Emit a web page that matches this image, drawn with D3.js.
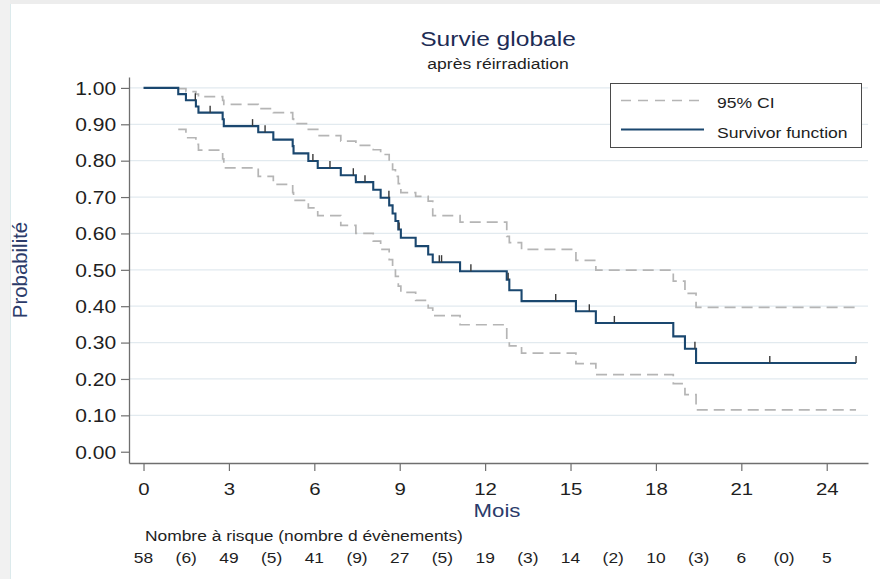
<!DOCTYPE html>
<html lang="fr">
<head>
<meta charset="utf-8">
<title>Survie globale</title>
<script src="https://cdn.jsdelivr.net/npm/d3@7"></script>
<style>
  html, body { margin: 0; padding: 0; background: #ffffff; }
  svg { display: block; }
  text { font-family: "Liberation Sans", Arial, Helvetica, sans-serif; }
</style>
</head>
<body>
<svg id="chart" width="880" height="579"></svg>
<script>
// Kaplan–Meier estimate: event times (months), survival after each event,
// and the pointwise 95% confidence band at the same steps.
const eventTimes = [1.22, 1.49, 1.84, 1.93, 2.78, 2.82, 4.03, 4.56, 5.24, 5.27, 5.79,
  6.12, 6.93, 7.46, 8.07, 8.33, 8.63, 8.75, 8.85, 8.95, 9.04, 9.56, 10.00, 10.16,
  11.12, 12.76, 12.85, 13.28, 15.19, 15.89, 18.61, 19.02, 19.41];
const survival = [0.983, 0.966, 0.949, 0.932, 0.914, 0.895, 0.878, 0.858, 0.840, 0.820, 0.799,
  0.780, 0.760, 0.741, 0.720, 0.698, 0.677, 0.655, 0.634, 0.611, 0.588, 0.565, 0.542, 0.521,
  0.496, 0.473, 0.444, 0.414, 0.386, 0.354, 0.317, 0.283, 0.244];
const ciLower = [0.886, 0.863, 0.845, 0.829, 0.805, 0.780, 0.757, 0.735, 0.712, 0.691, 0.670,
  0.649, 0.622, 0.600, 0.579, 0.556, 0.528, 0.505, 0.482, 0.455, 0.438, 0.416, 0.395, 0.374,
  0.349, 0.310, 0.291, 0.271, 0.242, 0.212, 0.187, 0.157, 0.115];
const ciUpper = [0.998, 0.990, 0.983, 0.976, 0.966, 0.955, 0.943, 0.932, 0.915, 0.902, 0.886,
  0.869, 0.854, 0.842, 0.830, 0.817, 0.795, 0.775, 0.757, 0.737, 0.712, 0.702, 0.689, 0.649,
  0.631, 0.592, 0.575, 0.556, 0.526, 0.499, 0.469, 0.435, 0.397];
// Censored observations (months)
const censorTimes = [1.82, 2.34, 3.83, 4.27, 5.95, 6.55, 7.37, 7.78, 8.62, 8.98, 10.39, 10.47,
  11.50, 12.81, 14.48, 15.66, 16.54, 19.37, 22.00, 25.03];
const lastFollowUp = 25.03;

// Axis ticks
const xTicks = [0, 3, 6, 9, 12, 15, 18, 21, 24];
const yTicks = [0, 0.1, 0.2, 0.3, 0.4, 0.5, 0.6, 0.7, 0.8, 0.9, 1.0];

// Number at risk at each x tick, and number of events in each interval
const riskTimes = [0, 3, 6, 9, 12, 15, 18, 21, 24];
const atRisk = [58, 49, 41, 27, 19, 14, 10, 6, 5];
const intervalEvents = [6, 5, 9, 5, 3, 2, 3, 0];

const titleText = "Survie globale";
const subtitleText = "après réirradiation";
const yTitle = "Probabilité";
const xTitle = "Mois";
const riskHeader = "Nombre à risque (nombre d évènements)";
const legendLabels = ["95% CI", "Survivor function"];

// ---------------------------------------------------------------
const svg = d3.select("#chart");
const W = 880, H = 579;
const SX = 1.17;           // horizontal text stretch
const navy = "#1a476f";
const ciGrey = "#b5b5b5";
const axisGrey = "#6f6f6f";
const titleNavy = "#1d2c55";

svg.append("rect").attr("width", W).attr("height", H).attr("fill", "#ffffff");
// soft window frame along the top and left edges
svg.append("rect").attr("x", 0).attr("y", 0).attr("width", W).attr("height", 4).attr("fill", "#ededed");
svg.append("rect").attr("x", 0).attr("y", 0).attr("width", 10).attr("height", H).attr("fill", "#f1f1f1");
svg.append("line").attr("x1", 10.5).attr("x2", 10.5).attr("y1", 4).attr("y2", H)
  .attr("stroke", "#dceaec").attr("stroke-width", 1);

const x = d3.scaleLinear().domain([-0.51, 25.45]).range([129, 868]);
const y = d3.scaleLinear().domain([-0.031, 1.030]).range([463, 77]);

// horizontal grid lines
svg.append("g").selectAll("line")
  .data(yTicks.filter(d => d > 0))
  .join("line")
  .attr("x1", x.range()[0]).attr("x2", x.range()[1])
  .attr("y1", d => y(d)).attr("y2", d => y(d))
  .attr("stroke", "#e2eaef").attr("stroke-width", 1.2);

// stretched text helper
function label(parent, str, px, py, opts) {
  const o = Object.assign({ size: 15, anchor: "middle", fill: "#222", sx: SX, rotate: 0 }, opts || {});
  return parent.append("text")
    .attr("transform", `translate(${px},${py}) rotate(${o.rotate}) scale(${o.sx},1)`)
    .attr("text-anchor", o.anchor)
    .attr("font-size", o.size)
    .attr("fill", o.fill)
    .text(str);
}

// Y axis
const yAxis = svg.append("g")
  .attr("transform", `translate(${x.range()[0]},0)`)
  .call(d3.axisLeft(y).tickValues(yTicks).tickSize(8).tickSizeOuter(0).tickFormat(d3.format(".2f")));
yAxis.select(".domain").attr("stroke", axisGrey).attr("stroke-width", 1.3);
yAxis.selectAll(".tick line").attr("stroke", axisGrey).attr("stroke-width", 1.2);
yAxis.selectAll(".tick text")
  .attr("font-size", 18).attr("fill", "#1e1e1e")
  .attr("font-family", "Liberation Sans, Arial, sans-serif")
  .attr("x", -11).attr("dy", "0.35em")
  .attr("transform", `scale(${SX},1)`);

// X axis
const xAxis = svg.append("g")
  .attr("transform", `translate(0,${y.range()[0]})`)
  .call(d3.axisBottom(x).tickValues(xTicks).tickSize(8).tickSizeOuter(0).tickFormat(d3.format("d")));
xAxis.select(".domain").attr("stroke", axisGrey).attr("stroke-width", 1.3);
xAxis.selectAll(".tick line").attr("stroke", axisGrey).attr("stroke-width", 1.2);
xAxis.selectAll(".tick text")
  .attr("font-size", 17).attr("fill", "#1e1e1e")
  .attr("font-family", "Liberation Sans, Arial, sans-serif")
  .attr("y", 20).attr("dy", "0.71em")
  .attr("transform", `scale(${SX + 0.03},1)`);

// step series
const stepLine = d3.line().x(d => x(d[0])).y(d => y(d[1])).curve(d3.curveStepAfter);

const survPts = [[0, 1]].concat(eventTimes.map((t, i) => [t, survival[i]]));
survPts.push([lastFollowUp, survival[survival.length - 1]]);
const lowPts = eventTimes.map((t, i) => [t, ciLower[i]]);
lowPts.push([lastFollowUp, ciLower[ciLower.length - 1]]);
const upPts = eventTimes.map((t, i) => [t, ciUpper[i]]);
upPts.push([lastFollowUp, ciUpper[ciUpper.length - 1]]);

const plot = svg.append("g");
[lowPts, upPts].forEach(pts => {
  plot.append("path").attr("d", stepLine(pts))
    .attr("fill", "none").attr("stroke", ciGrey)
    .attr("stroke-width", 1.7).attr("stroke-dasharray", "11,6");
});
plot.append("path").attr("d", stepLine(survPts))
  .attr("fill", "none").attr("stroke", navy).attr("stroke-width", 2.1)
  .attr("stroke-linejoin", "miter");

// censor ticks sit on the curve value at their time
function survAt(t) {
  let s = 1;
  for (let i = 0; i < eventTimes.length; i++) if (eventTimes[i] <= t) s = survival[i];
  return s;
}
plot.append("g").selectAll("line")
  .data(censorTimes)
  .join("line")
  .attr("x1", d => x(d)).attr("x2", d => x(d))
  .attr("y1", d => y(survAt(d))).attr("y2", d => y(survAt(d)) - 7)
  .attr("stroke", "#3a3a3a").attr("stroke-width", 1.4);

// titles
label(svg, titleText, 498, 46, { size: 21, fill: titleNavy });
label(svg, subtitleText, 498, 69, { size: 15, fill: "#1e1e1e" });
label(svg, xTitle, 497, 517, { size: 19, fill: "#2b3b6a" });
label(svg, yTitle, 27, 270, { size: 20, fill: "#2b3b6a", rotate: -90, sx: 1.02 });

// legend
const lg = svg.append("g");
lg.append("rect").attr("x", 610.5).attr("y", 83.5).attr("width", 251).attr("height", 64)
  .attr("fill", "#ffffff").attr("stroke", "#4a4a4a").attr("stroke-width", 1);
lg.append("line").attr("x1", 621).attr("x2", 704).attr("y1", 100.5).attr("y2", 100.5)
  .attr("stroke", ciGrey).attr("stroke-width", 1.7).attr("stroke-dasharray", "10,7");
lg.append("line").attr("x1", 621).attr("x2", 704).attr("y1", 129.5).attr("y2", 129.5)
  .attr("stroke", navy).attr("stroke-width", 2.1);
label(lg, legendLabels[0], 717, 107.5, { size: 15, anchor: "start", fill: "#1e1e1e" });
label(lg, legendLabels[1], 717, 137.5, { size: 15, anchor: "start", fill: "#1e1e1e" });

// number-at-risk table
const risk = svg.append("g");
label(risk, riskHeader, 145, 541, { size: 14.5, anchor: "start", fill: "#1e1e1e", sx: 1.2 });
riskTimes.forEach((t, i) => {
  label(risk, String(atRisk[i]), x(t), 563, { size: 14.5, fill: "#1e1e1e", sx: 1.2 });
});
intervalEvents.forEach((n, i) => {
  const mid = (riskTimes[i] + riskTimes[i + 1]) / 2;
  label(risk, `(${n})`, x(mid), 563, { size: 14.5, fill: "#1e1e1e", sx: 1.2 });
});
</script>
</body>
</html>
